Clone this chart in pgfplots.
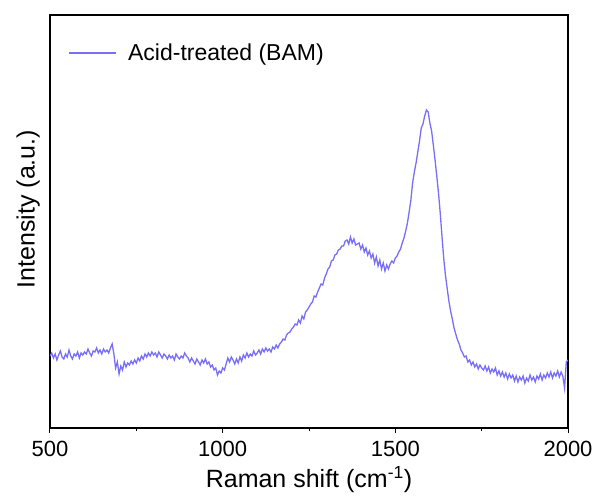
\documentclass[border=0pt]{standalone}
\usepackage{pgfplots}
\pgfplotsset{compat=1.18}
\usepackage{fontspec}
\setmainfont{Liberation Sans}
\definecolor{ramanline}{RGB}{120,110,250}

\begin{document}
\begin{tikzpicture}
\begin{axis}[
    scale only axis,
    width=518pt, height=413pt,
    xmin=500, xmax=2000,
    ymin=0, ymax=413,
    xtick={500,1000,1500,2000},
    minor xtick={750,1250,1750},
    ytick=\empty,
    tick align=outside,
    xtick pos=bottom,
    major tick length=5pt,
    minor tick length=3pt,
    axis line style={line width=1.1pt},
    every tick/.style={black, line width=1pt},
    /pgf/number format/assume math mode=true,
    /pgf/number format/1000 sep={},
    tick label style={font=\fontsize{22}{26}\selectfont},
    xticklabel style={yshift=-5pt},
    xlabel={Raman shift (cm\textsuperscript{-1})},
    ylabel={Intensity (a.u.)},
    label style={font=\fontsize{25}{30}\selectfont},
    xlabel style={at={(axis description cs:0.5,-0.145)}, anchor=base},
    ylabel style={at={(axis description cs:-0.042,0.53)}, anchor=center},
    legend style={draw=none, fill=none, at={(axis description cs:0.036,0.908)},
        anchor=west, font=\fontsize{23}{27}\selectfont, inner sep=0pt,
        /tikz/every odd column/.append style={column sep=9pt}},
    legend cell align=left,
    legend image code/.code={\draw[#1] (0pt,0pt) -- (47pt,0pt);},
]
\addplot[ramanline, line width=1.3pt] coordinates {
(500,72)(505,75)(510,70)(515,74)(520,68)(525,73)(530,77)(535,71)(540,69)(545,74)
(550,71)(555,78)(560,72)(565,69)(570,74)(575,72)(580,76)(585,70)(590,75)(595,73)
(600,76)(605,74)(610,79)(615,75)(620,72)(625,77)(630,76)(635,80)(640,75)(645,78)
(650,74)(655,79)(660,76)(665,78)(670,75)(675,80)(680,84)(685,74)(690,60)(695,66)
(700,54)(705,62)(710,58)(715,66)(720,61)(725,65)(730,63)(735,67)(740,64)(745,68)
(750,65)(755,70)(760,67)(765,72)(770,69)(775,74)(780,71)(785,75)(790,72)(795,76)
(800,73)(805,75)(810,71)(815,76)(820,73)(825,70)(830,74)(835,72)(840,69)(845,73)
(850,70)(855,72)(860,68)(865,74)(870,71)(875,69)(880,72)(885,70)(890,75)(895,72)
(900,70)(905,66)(910,70)(915,67)(920,64)(925,69)(930,66)(935,63)(940,68)(945,65)
(950,69)(955,64)(960,66)(965,61)(970,63)(975,58)(980,60)(985,53)(990,57)(995,55)
(1000,60)(1005,58)(1010,64)(1015,70)(1020,66)(1025,71)(1030,68)(1035,64)(1040,69)(1045,65)
(1050,71)(1055,67)(1060,73)(1065,70)(1070,75)(1075,71)(1080,74)(1085,72)(1090,77)(1095,73)
(1100,75)(1105,78)(1110,74)(1115,79)(1120,76)(1125,80)(1130,77)(1135,79)(1140,76)(1145,81)
(1150,79)(1155,83)(1160,80)(1165,84)(1170,86)(1175,89)(1180,88)(1185,93)(1190,95)(1195,96)
(1200,99)(1205,101)(1210,104)(1215,103)(1220,108)(1225,105)(1230,112)(1235,109)(1240,116)(1245,118)
(1250,121)(1255,124)(1260,126)(1265,132)(1270,131)(1275,136)(1280,140)(1285,144)(1290,143)(1295,150)
(1300,154)(1305,159)(1310,161)(1315,167)(1320,168)(1325,173)(1330,174)(1335,178)(1340,179)(1345,182)
(1350,182)(1355,187)(1360,188)(1365,184)(1370,191)(1375,185)(1380,189)(1385,183)(1390,184)(1395,185)
(1400,179)(1405,183)(1410,176)(1415,180)(1420,173)(1425,177)(1430,170)(1435,174)(1440,165)(1445,171)
(1450,162)(1455,168)(1460,159)(1465,165)(1470,157)(1475,163)(1480,159)(1485,164)(1490,167)(1495,165)
(1500,170)(1505,172)(1510,176)(1515,179)(1520,185)(1525,190)(1530,197)(1535,205)(1540,216)(1545,228)
(1550,245)(1555,256)(1560,265)(1565,276)(1570,287)(1575,300)(1580,304)(1585,312)(1590,318)(1595,316)
(1600,305)(1605,297)(1610,283)(1615,268)(1620,252)(1625,235)(1630,215)(1635,192)(1640,170)(1645,153)
(1650,140)(1655,127)(1660,117)(1665,109)(1670,100)(1675,94)(1680,88)(1685,84)(1690,78)(1695,75)
(1700,71)(1705,72)(1710,66)(1715,68)(1720,63)(1725,66)(1730,61)(1735,64)(1740,59)(1745,63)
(1750,60)(1755,58)(1760,62)(1765,57)(1770,61)(1775,55)(1780,59)(1785,56)(1790,60)(1795,53)
(1800,57)(1805,52)(1810,56)(1815,51)(1820,55)(1825,49)(1830,54)(1835,50)(1840,53)(1845,47)
(1850,52)(1855,46)(1860,51)(1865,48)(1870,52)(1875,45)(1880,50)(1885,47)(1890,53)(1895,48)
(1900,51)(1905,46)(1910,52)(1915,49)(1920,54)(1925,48)(1930,53)(1935,50)(1940,55)(1945,51)
(1950,56)(1955,50)(1960,55)(1965,52)(1970,57)(1975,51)(1980,56)(1985,52)(1990,40)(1995,66)
(2000,68)
};
\addlegendentry{Acid-treated (BAM)}
\end{axis}
\path ([shift={(-50pt,-72pt)}]current axis.south west) rectangle ([shift={(30pt,15pt)}]current axis.north east);
\end{tikzpicture}
\end{document}
